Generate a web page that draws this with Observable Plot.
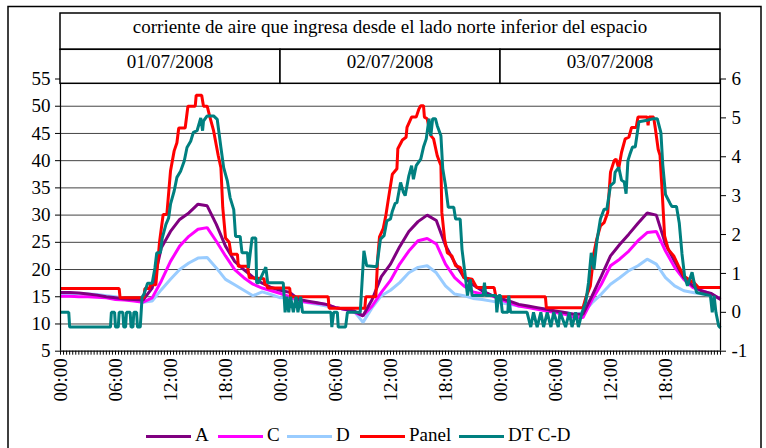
<!DOCTYPE html>
<html><head><meta charset="utf-8">
<script src="https://cdn.jsdelivr.net/npm/d3@7"></script>
<script src="https://cdn.jsdelivr.net/npm/@observablehq/plot@0.6"></script>
<style>
body{margin:0;background:#fff}
#chart svg, #chart svg text {font-family: 'Liberation Serif', 'Times New Roman', serif !important;}
</style>
</head><body><div id="chart"></div>
<script>
const titleText = "corriente de aire que ingresa desde el lado norte inferior del espacio";
const dayLabels = ["01/07/2008", "02/07/2008", "03/07/2008"];
const dayStarts = [0, 24, 48];
const tickLabels = ["00:00", "06:00", "12:00", "18:00"];
const labelHours = [0, 6, 12, 18, 24, 30, 36, 42, 48, 54, 60, 66];
const leftTicks = [5, 10, 15, 20, 25, 30, 35, 40, 45, 50, 55];
const rightTicks = [-1, 0, 1, 2, 3, 4, 5, 6];
const gridVals = [10, 15, 20, 25, 30, 35, 40, 45, 50];
const seriesNames = ["A", "C", "D", "Panel", "DT C-D"];
const seriesColors = ["#800080", "#FF00FF", "#99CCFF", "#FF0000", "#008080"];

const hourlyTimes = d3.range(0, 73);
const valuesA = [15.8,15.8,15.7,15.5,15.3,15.0,14.8,14.6,14.5,14.4,16.6,24.0,27.0,29.2,30.4,32.0,31.7,28.3,24.3,21.5,20.0,18.6,17.5,16.7,16.2,
15.8,14.5,14.2,13.9,13.6,13.0,12.7,12.4,11.5,14.5,18.7,21.0,24.2,27.0,28.8,30.0,29.0,24.4,21.3,18.6,17.2,16.1,15.3,14.7,
14.2,13.6,13.3,13.0,12.7,12.4,12.1,11.8,11.8,15.2,18.8,22.5,24.6,26.5,28.5,30.4,30.0,24.7,21.5,18.5,17.0,16.0,15.6,14.5];
const valuesC = [15.1,15.1,15.0,15.0,14.9,14.8,14.5,14.4,14.2,14.0,14.8,17.9,21.5,24.3,26.1,27.4,27.7,25.2,22.5,20.0,18.5,17.3,16.6,16.1,15.6,
15.0,14.2,14.0,13.8,13.6,13.0,12.7,12.2,11.5,13.3,15.8,18.0,21.0,23.4,25.3,25.7,24.7,21.0,18.5,17.0,15.9,15.5,15.2,14.5,
13.9,13.3,13.0,12.7,12.4,12.1,11.8,11.2,11.2,14.5,17.3,20.7,21.9,23.4,25.3,26.8,27.0,23.4,20.4,18.2,16.7,16.1,15.5,14.6];
const valuesD = [15.6,15.6,15.6,15.5,15.4,15.2,15.0,14.7,14.4,14.0,14.2,16.3,18.2,20.0,21.2,22.1,22.2,20.3,18.2,17.2,16.2,15.2,15.9,15.4,14.8,
14.9,14.2,13.9,13.6,13.3,13.0,12.7,12.4,10.3,13.0,15.2,16.2,17.6,19.4,20.4,20.7,19.4,17.0,15.5,15.2,14.7,14.5,14.2,13.9,
13.6,13.3,13.1,12.9,12.6,12.3,12.1,11.8,12.0,13.9,15.5,17.3,18.5,19.8,20.7,21.9,21.0,18.5,17.0,16.1,15.8,15.5,15.2,14.6];

const panelHours = [0,6.4,6.5,9.1,9.2,9.7,9.8,10.4,10.8,11.2,11.6,12.0,12.4,12.7,12.9,13.6,13.9,14.7,14.8,15.4,15.6,16.0,16.3,16.7,17.2,17.5,17.7,18.0,18.4,18.6,19.3,19.4,20.4,20.6,22.2,22.3,22.5,22.6,
25.0,25.1,29.2,29.3,33.2,33.3,34.4,34.6,34.8,35.2,35.5,35.8,36.2,36.7,36.8,37.3,37.7,37.8,38.3,38.8,39.1,39.3,39.6,39.7,40.0,40.4,40.7,41.1,41.5,41.6,41.9,42.2,42.7,43.1,43.6,44.0,44.9,45.4,47.3,47.5,
52.9,53.0,57.0,57.3,57.8,58.2,58.5,58.9,59.3,59.7,60.0,60.4,60.6,60.9,61.2,61.6,62.0,62.3,62.8,63.0,64.0,64.1,64.2,64.7,64.9,65.2,65.4,65.6,65.9,66.3,66.9,67.4,68.0,68.5,69.1,69.6,72];
const panelValues = [16.5,16.5,14.8,14.8,16.5,16.5,17.2,17.2,25,30.1,30.1,38.1,41.8,43.3,46,46,50,50,52,52,50,50,48,45.5,41,38.7,31.4,25.8,25,22.8,22.8,20.6,20.6,18.5,18.3,17.2,17.2,16.6,
16.6,15,15,12.9,12.9,15,15,22,26,27.5,30,33.3,37.5,38.5,42.2,43.8,44.3,46.1,48,48,49.5,50.1,50.1,48,47.7,44.6,44,40.9,39.1,30.5,25.6,23.1,22.5,20.7,20.4,18.5,18.2,16.7,16.7,15,
15,13.0,13.0,14.8,17,23.1,25.6,28,28.6,30.5,37.9,40,40.3,38.6,41.5,44,44.3,46.1,46.1,48,48,46.5,48,48,45.8,42.1,41,35.4,26.2,23.7,22.5,20.7,18.8,18.2,17.6,16.7,16.7];

const dtHours = [0,0.9,1.0,5.45,5.55,5.9,6.0,6.3,6.4,6.8,6.9,7.1,7.2,7.6,7.7,7.9,8.0,8.3,8.4,8.7,8.9,9.1,9.5,10.0,10.3,10.5,10.9,11.1,11.5,11.8,12.0,12.4,12.7,13.1,13.5,13.8,14.2,14.5,14.9,15.3,15.5,15.6,16.0,16.7,17.1,17.5,17.8,18.2,18.5,18.9,19.1,19.6,19.8,20.4,20.5,20.9,21.3,21.4,21.6,21.8,22.4,22.6,24.0,
24.3,24.4,24.5,24.7,24.9,25.1,25.4,25.7,25.9,26.2,26.4,29.5,29.6,29.8,30.2,30.3,31.1,31.3,32.7,33.1,33.4,34.5,34.9,35.3,35.6,36.0,36.2,36.5,36.7,37.1,37.4,37.6,38.0,38.3,38.5,38.8,39.3,39.6,39.9,40.2,40.4,40.6,40.9,41.1,41.5,41.7,42.0,42.3,42.9,43.1,43.6,43.8,44.2,44.4,44.7,44.9,46.1,46.25,46.4,47.5,47.6,47.8,
48.0,48.2,48.8,48.9,49.1,50.9,51.3,51.6,52.0,52.4,52.7,53.1,53.5,53.8,54.3,54.5,55.1,55.5,55.8,56.2,56.5,56.9,57.3,57.6,57.9,58.2,58.5,58.9,59.3,59.6,60.0,60.4,60.5,60.9,61.2,61.5,61.7,61.9,62.1,62.4,62.7,63.1,64.0,64.7,65.1,65.5,65.7,66.0,66.5,66.7,67.2,67.5,67.8,68.1,68.4,68.9,69.2,69.4,70.9,71.1,71.3,71.5,71.8,72];
const dtValues = [0,0,-0.38,-0.38,0,0,-0.38,-0.38,0,0,-0.38,-0.38,0,0,-0.38,-0.38,0,0,-0.38,-0.38,0.39,0.46,0.75,0.75,1.14,1.53,1.53,1.91,2.26,2.43,2.78,3.12,3.47,3.63,3.89,4.24,4.40,4.63,4.67,5.0,4.67,4.92,5.05,5.05,4.96,4.24,3.72,3.38,2.95,2.64,1.95,1.95,1.53,1.53,1.14,1.91,1.91,0.76,0.76,0.86,1.16,0.76,0.76,
0.76,0.4,0,0.4,0,0.4,0,0.4,0,0.4,0,0,-0.38,0,0,-0.38,-0.38,0,0,1.58,1.2,1.17,1.88,1.97,2.35,2.4,2.6,2.8,2.82,3.34,3.09,3.0,3.51,3.77,3.42,3.77,3.94,4.25,4.46,4.98,4.54,4.98,4.98,4.8,4.54,3.69,3.26,2.7,2.7,2.4,2.4,1.62,0.85,0.43,0.85,0.43,0.43,0.76,0.43,0.43,0,0.43,
0.43,0,0,0.43,0,0,-0.38,0,-0.38,0,-0.38,0,-0.38,0,-0.38,0,-0.38,0,-0.38,0,-0.38,0,0.26,0.76,1.53,1.11,1.8,2.4,2.65,2.65,3.26,3.34,3.6,3.73,3.4,3.35,3.05,3.9,4.05,4.25,4.25,4.9,4.94,4.98,4.98,4.62,3.8,3.03,2.8,2.72,2.72,2.3,1.5,0.9,0.68,1.03,0.68,0.51,0.43,0,0.43,0,-0.35,-0.4];

// right axis (-1..6) shares the left pixel span (5..55)
const toLeft = r => 5 + (r + 1) * 50 / 7;

const rows = [];
hourlyTimes.forEach((h, i) => rows.push({h, v: valuesD[i], s: "D"}));
hourlyTimes.forEach((h, i) => rows.push({h, v: valuesC[i], s: "C"}));
hourlyTimes.forEach((h, i) => rows.push({h, v: valuesA[i], s: "A"}));
panelHours.forEach((h, i) => rows.push({h, v: panelValues[i], s: "Panel"}));
dtHours.forEach((h, i) => rows.push({h, v: toLeft(dtValues[i]), s: "DT C-D"}));

const minorTicks = d3.range(0, 72.001, 1/3);
const FONT = "'Liberation Serif', 'Times New Roman', serif";
const FS = 19;

const plot = Plot.plot({
  width: 766, height: 448,
  marginLeft: 60, marginRight: 46, marginTop: 78.5, marginBottom: 97.3,
  style: {fontFamily: FONT, fontSize: FS + "px", background: "#fff", color: "#000"},
  x: {domain: [0, 72], label: null},
  y: {domain: [5, 55], label: null},
  color: {domain: seriesNames, range: seriesColors},
  marks: [
    Plot.gridY(gridVals, {stroke: "#444", strokeOpacity: 1, strokeWidth: 1}),
    Plot.line(rows, {x: "h", y: "v", z: "s", stroke: "s", strokeWidth: 3, strokeLinejoin: "miter", strokeLinecap: "butt"}),
    Plot.ruleX([0, 72], {y1: 5, y2: 55, stroke: "#000", strokeWidth: 1.2}),
    Plot.ruleY([5], {stroke: "#000", strokeWidth: 1.2}),
    Plot.axisY(leftTicks, {anchor: "left", label: null, tickSize: 5, tickPadding: 5, fontSize: FS, fontFamily: FONT}),
    Plot.axisY(rightTicks.map(toLeft), {anchor: "right", label: null, tickSize: 5, tickPadding: 6, fontSize: FS, fontFamily: FONT,
      tickFormat: v => String(Math.round((v - 5) * 7 / 50 - 1))}),
    Plot.axisX(minorTicks, {anchor: "bottom", label: null, tickSize: 4, tickFormat: () => ""}),
    Plot.axisX(labelHours, {anchor: "bottom", label: null, tickSize: 0, tickPadding: 7, tickRotate: -90, fontSize: FS, fontFamily: FONT,
      tickFormat: h => tickLabels[(h % 24) / 6]})
  ]
});
document.getElementById("chart").appendChild(plot);

// header table, outer frame and legend
const svg = d3.select(plot);
const xs = plot.scale("x");
const x0 = xs.apply(0), x1 = xs.apply(72);
const g = svg.append("g").attr("font-family", FONT).attr("fill", "#000").attr("text-anchor", "start");
g.append("rect").attr("x", 8).attr("y", 6.5).attr("width", 753).attr("height", 470)
  .attr("fill", "none").attr("stroke", "#000").attr("stroke-width", 1.5);
g.append("rect").attr("x", x0).attr("y", 13).attr("width", x1 - x0).attr("height", 36.3)
  .attr("fill", "#fff").attr("stroke", "#000").attr("stroke-width", 1.5);
g.append("text").attr("x", (x0 + x1) / 2).attr("y", 28.5).attr("text-anchor", "middle")
  .attr("dominant-baseline", "middle").attr("font-size", FS).text(titleText);
dayStarts.forEach((d, i) => {
  const a = xs.apply(d), b = xs.apply(d + 24);
  g.append("rect").attr("x", a).attr("y", 49.3).attr("width", b - a).attr("height", 34)
    .attr("fill", "#fff").attr("stroke", "#000").attr("stroke-width", 1.5);
  g.append("text").attr("x", (a + b) / 2).attr("y", 64).attr("text-anchor", "middle")
    .attr("dominant-baseline", "middle").attr("font-size", FS).text(dayLabels[i]);
});
const legendX = [146, 218, 287, 360, 459];
seriesNames.forEach((s, i) => {
  const lx = legendX[i];
  g.append("line").attr("x1", lx).attr("x2", lx + 45).attr("y1", 436.5).attr("y2", 436.5)
    .attr("stroke", seriesColors[i]).attr("stroke-width", 3);
  g.append("text").attr("x", lx + 49).attr("y", 437).attr("text-anchor", "start")
    .attr("dominant-baseline", "middle").attr("font-size", FS).text(s);
});
</script>
</body></html>
